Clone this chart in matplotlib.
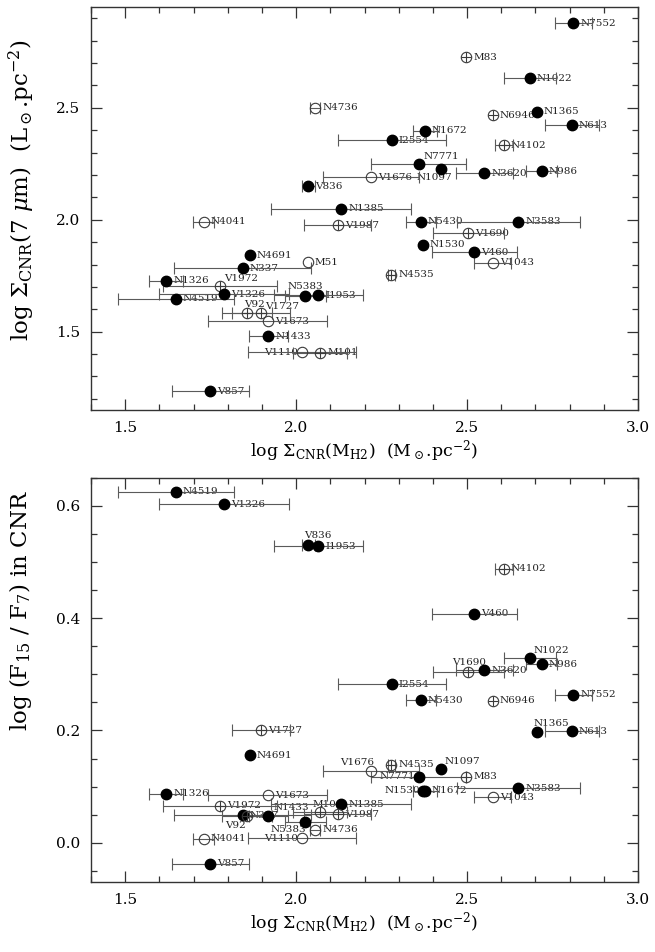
import numpy as np
import matplotlib
matplotlib.use('Agg')
import matplotlib.pyplot as plt
from matplotlib.ticker import MultipleLocator

plt.rcParams['font.family'] = 'DejaVu Serif'
plt.rcParams['mathtext.fontset'] = 'dejavuserif'

# ---------------------------------------------------------------------------
# data
# ---------------------------------------------------------------------------
names = ['N7552', 'M83', 'N1022', 'N1365', 'N613', 'N6946', 'N1672', 'I2554',
         'N7771', 'N1097', 'N3620', 'N986', 'V1676', 'V836', 'N4736', 'N4102',
         'N1385', 'N4041', 'V1987', 'N5430', 'N3583', 'V1690', 'N1530', 'V460',
         'V1043', 'N4535', 'N4691', 'M51', 'N337', 'N1326', 'V1972', 'V1326',
         'N4519', 'N5383', 'I1953', 'V92', 'V1727', 'V1673', 'N1433', 'V1110',
         'M101', 'V857']
# f = filled, p = circle with cross, o = open circle
kinds = ['f', 'p', 'f', 'f', 'f', 'p', 'f', 'f',
         'f', 'f', 'f', 'f', 'o', 'f', 'o', 'p',
         'f', 'o', 'p', 'f', 'f', 'p', 'f', 'f',
         'o', 'p', 'f', 'o', 'f', 'f', 'p', 'f',
         'f', 'f', 'f', 'p', 'p', 'o', 'f', 'o',
         'p', 'f']
log_sigma_h2 = [2.811, 2.497, 2.684, 2.704, 2.807, 2.575, 2.377, 2.280,
                2.359, 2.423, 2.550, 2.718, 2.219, 2.036, 2.056, 2.608,
                2.132, 1.729, 2.122, 2.365, 2.650, 2.504, 2.370, 2.521,
                2.575, 2.278, 1.865, 2.034, 1.844, 1.620, 1.778, 1.790,
                1.648, 2.026, 2.065, 1.856, 1.897, 1.917, 1.919, 2.017,
                2.070, 1.749]
err_h2 = [0.054, 0.0, 0.076, 0.0, 0.079, 0.0, 0.036, 0.157,
          0.139, 0.0, 0.083, 0.045, 0.140, 0.020, 0.015, 0.025,
          0.205, 0.030, 0.098, 0.045, 0.180, 0.104, 0.0, 0.124,
          0.054, 0.010, 0.0, 0.0, 0.200, 0.050, 0.167, 0.190,
          0.169, 0.060, 0.130, 0.073, 0.084, 0.174, 0.058, 0.158,
          0.080, 0.113]
log_sigma_7um = [2.878, 2.726, 2.631, 2.483, 2.423, 2.466, 2.397, 2.356,
                 2.251, 2.228, 2.208, 2.217, 2.189, 2.149, 2.501, 2.332,
                 2.049, 1.992, 1.975, 1.990, 1.990, 1.940, 1.888, 1.854,
                 1.807, 1.754, 1.841, 1.811, 1.784, 1.728, 1.705, 1.668,
                 1.647, 1.658, 1.662, 1.583, 1.583, 1.546, 1.479, 1.409,
                 1.405, 1.233]
log_f15_f7 = [0.264, 0.118, 0.330, 0.197, 0.199, 0.253, 0.093, 0.282,
              0.118, 0.131, 0.307, 0.318, 0.128, 0.530, 0.023, 0.488,
              0.069, 0.007, 0.051, 0.254, 0.097, 0.305, 0.093, 0.408,
              0.081, 0.139, 0.156, np.nan, 0.049, 0.087, 0.066, 0.603,
              0.625, 0.037, 0.528, 0.047, 0.200, 0.085, 0.048, 0.008,
              0.054, -0.037]

# label placement (pixel offsets, ha); default is to the right of the point
LABEL_TOP = {
    'N7771': (5, 7, 'left'), 'N1097': (-6, -9, 'center'),
    'V1972': (4, 7, 'left'), 'N5383': (0, 9.5, 'center'),
    'V92': (-3, 9, 'left'), 'V1727': (4.5, 7, 'left'),
    'V1110': (-4, 0, 'right'),
}
LABEL_BOT = {
    'V836': (-4, 9.5, 'left'), 'N1022': (4, 7.5, 'left'),
    'V1690': (1, 9, 'center'), 'N1365': (-3, 9, 'left'),
    'V1676': (3, 8.5, 'right'), 'N1097': (4, 7.5, 'left'),
    'N7771': (-4, 0, 'right'), 'N1530': (-2, 0, 'right'),
    'N1433': (5.5, 8.5, 'left'), 'M101': (-8, 8, 'left'),
    'V92': (-1, -9, 'right'), 'N5383': (1, -7.5, 'right'),
    'V1110': (-4, 0, 'right'),
}

EDGE = '#3a3a3a'
ERRC = '#5a5a5a'
MS = 7.5


def draw_panel(ax, yvals, label_pos):
    for n, k, x, xe, y in zip(names, kinds, log_sigma_h2, err_h2, yvals):
        if np.isnan(y):
            continue
        if xe > 0:
            ax.errorbar(x, y, xerr=xe, fmt='none', ecolor=ERRC,
                        elinewidth=0.8, capsize=4, capthick=0.8, zorder=3)
        if k == 'f':
            ax.plot(x, y, 'o', ms=MS, color='black', zorder=4)
        else:
            ax.plot(x, y, 'o', ms=MS, mfc='none', mec=EDGE, mew=0.8, zorder=4)
            if k == 'p':
                ax.plot(x, y, '+', ms=MS, mec=EDGE, mew=0.8, zorder=4)
        dx, dy, ha = label_pos.get(n, (7, 0, 'left'))
        ax.annotate(n, (x, y), xytext=(dx, dy), textcoords='offset pixels',
                    ha=ha, va='center', fontsize=7.5, color='#222222',
                    zorder=2)

    ax.set_xlim(1.4, 3.0)
    ax.xaxis.set_major_locator(MultipleLocator(0.5))
    ax.xaxis.set_minor_locator(MultipleLocator(0.1))
    ax.tick_params(which='both', direction='in', top=True, right=True,
                   labelsize=11, width=0.9, color='#333333')
    ax.tick_params(which='major', length=8, pad=8)
    ax.tick_params(which='minor', length=4)
    for s in ax.spines.values():
        s.set_linewidth(1.0)
        s.set_color('#333333')


fig = plt.figure(figsize=(6.55, 9.52), dpi=100)
ax1 = fig.add_axes([0.139, 0.5693, 0.835, 0.4233])
ax2 = fig.add_axes([0.139, 0.0735, 0.835, 0.4245])

xlabel = r'log $\Sigma_{\rm CNR}$(M$_{\rm H2}$)  (M$_\odot$.pc$^{-2}$)'

draw_panel(ax1, log_sigma_7um, LABEL_TOP)
ax1.set_ylim(1.15, 2.95)
ax1.yaxis.set_major_locator(MultipleLocator(0.5))
ax1.yaxis.set_minor_locator(MultipleLocator(0.1))
ax1.set_xlabel(xlabel, fontsize=12.5, labelpad=2)
ax1.set_ylabel(r'log $\Sigma_{\rm CNR}$(7 $\mu$m)  (L$_\odot$.pc$^{-2}$)',
               fontsize=16.5)
ax1.yaxis.set_label_coords(-0.098, 0.546)

draw_panel(ax2, log_f15_f7, LABEL_BOT)
ax2.set_ylim(-0.07, 0.65)
ax2.yaxis.set_major_locator(MultipleLocator(0.2))
ax2.yaxis.set_minor_locator(MultipleLocator(0.05))
ax2.set_xlabel(xlabel, fontsize=12.5, labelpad=2)
ax2.set_ylabel(r'log (F$_{15}$ / F$_7$) in CNR', fontsize=16.5)
ax2.yaxis.set_label_coords(-0.105, 0.671)

fig.savefig('out.png', dpi=100)
